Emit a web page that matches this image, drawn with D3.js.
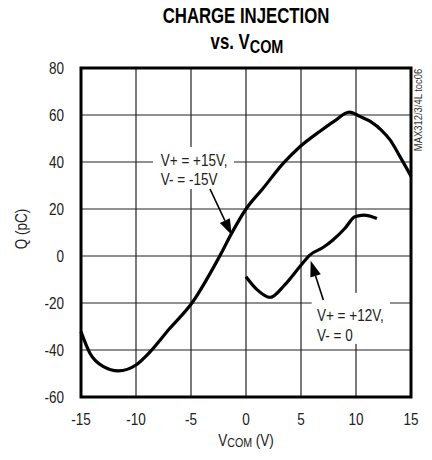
<!DOCTYPE html>
<html><head><meta charset="utf-8">
<script src="https://cdn.jsdelivr.net/npm/d3@7"></script>
<style>
body{margin:0;background:#fff;}
svg text{font-family:"Liberation Sans",Arial,sans-serif;}
</style></head>
<body><svg id="c" width="432" height="460"></svg>
<script>
const xTicks = [-15,-10,-5,0,5,10,15];
const yTicks = [-60,-40,-20,0,20,40,60,80];
const s1x = [-15,-14.2,-13,-11.6,-10,-8.7,-7,-4.9,-2.5,-1.15,0,1.5,3.4,4.9,6.7,8,9.4,10.4,11.4,12.3,13.1,14,15];
const s1y = [-32.2,-41.3,-47,-48.9,-46.4,-40.7,-31.2,-19.9,-1.0,11,20,28.5,39.5,46.5,53,57.3,61.2,59.3,57,53.6,49.4,42.3,34];
const s2x = [0,1,2.2,3.5,4.9,5.8,7,7.9,9,9.9,10.7,11.9];
const s2y = [-8.8,-14.3,-17.6,-12.4,-4.5,0.4,3.6,6.8,11.8,16.7,17.4,16];
const labels1 = ["V+ = +15V,","V- = -15V"];
const labels2 = ["V+ = +12V,","V- = 0"];

const svg = d3.select("#c");
const x = d3.scaleLinear().domain([-15,15]).range([81,411]);
const y = d3.scaleLinear().domain([-60,80]).range([397,68]);
const SX = 0.82;

function txt(px, py, str, size, anchor, opts={}){
  const g = svg.append("g").attr("transform",`translate(${px},${py}) rotate(${opts.rot||0}) scale(${opts.sx||SX},1)`);
  const t = g.append("text").attr("x",0).attr("y",0).attr("text-anchor",anchor||"start")
    .attr("font-size",size).attr("fill",opts.fill||"#222");
  if (opts.bold) t.attr("font-weight","bold");
  if (str!==null) t.text(str);
  return t;
}

// grid
svg.append("g").selectAll("line").data(xTicks.slice(1,-1)).join("line")
  .attr("x1",d=>x(d)).attr("x2",d=>x(d)).attr("y1",y(80)).attr("y2",y(-60))
  .attr("stroke","#222").attr("stroke-width",1.2);
svg.append("g").selectAll("line").data(yTicks.slice(1,-1)).join("line")
  .attr("y1",d=>y(d)).attr("y2",d=>y(d)).attr("x1",x(-15)).attr("x2",x(15))
  .attr("stroke","#222").attr("stroke-width",1.2);

// label background boxes
svg.append("rect").attr("x",x(-8.45)).attr("y",y(46.4)).attr("width",x(-1.1)-x(-8.45)).attr("height",y(28.5)-y(46.4)).attr("fill","#fff");
svg.append("rect").attr("x",x(5.97)).attr("y",y(-15.7)).attr("width",x(13.1)-x(5.97)).attr("height",y(-37.4)-y(-15.7)).attr("fill","#fff");

// labels
const fsz = 16.5;
labels1.forEach((t,i)=>txt(x(-7.75), y(38.3)+i*19.5, t, fsz, "start"));
labels2.forEach((t,i)=>txt(x(6.45), y(-27.8)+i*19.5, t, fsz, "start"));

// curves
const line = d3.line().x(d=>x(d[0])).y(d=>y(d[1])).curve(d3.curveMonotoneX);
[[s1x,s1y],[s2x,s2y]].forEach(([sx,sy])=>{
  svg.append("path").datum(sx.map((v,i)=>[v,sy[i]])).attr("d",line)
    .attr("fill","none").attr("stroke","#000").attr("stroke-width",3.2).attr("stroke-linejoin","round");
});

// arrows
function arrow(x0,y0,x1,y1){
  const X0=x(x0),Y0=y(y0),X1=x(x1),Y1=y(y1);
  const a=Math.atan2(Y1-Y0,X1-X0), L=16, W=5.5;
  const bx=X1-L*Math.cos(a), by=Y1-L*Math.sin(a);
  svg.append("line").attr("x1",X0).attr("y1",Y0).attr("x2",bx).attr("y2",by).attr("stroke","#000").attr("stroke-width",1.6);
  const px=-Math.sin(a)*W, py=Math.cos(a)*W;
  svg.append("path").attr("d",`M${X1},${Y1}L${bx+px},${by+py}L${bx-px},${by-py}Z`).attr("fill","#000");
}
arrow(-3.27,28.5,-1.3,8.9);
arrow(7.03,-18.7,5.88,-2.0);

// border
svg.append("rect").attr("x",x(-15)).attr("y",y(80)).attr("width",x(15)-x(-15)).attr("height",y(-60)-y(80))
  .attr("fill","none").attr("stroke","#000").attr("stroke-width",3);

// tick labels
xTicks.forEach(d=>txt(x(d), 425, String(d), fsz, "middle"));
yTicks.forEach(d=>txt(64, y(d)+6, String(d), fsz, "end"));

// axis titles
const xt = txt(246, 446, null, fsz, "middle");
xt.append("tspan").text("V");
xt.append("tspan").attr("font-size",13).attr("dy",1).text("COM");
xt.append("tspan").attr("dy",-1).text(" (V)");
txt(27, 229, "Q (pC)", fsz, "middle", {rot:-90});

// side note
txt(422, 110, "MAX312/3/4L toc06", 11.5, "middle", {rot:-90, fill:"#333"});

// title
txt(246, 23, "CHARGE INJECTION", 21.5, "middle", {bold:true, fill:"#000", sx:0.78});
const t2 = txt(247, 49, null, 21.5, "middle", {bold:true, fill:"#000", sx:0.78});
t2.append("tspan").text("vs. V");
t2.append("tspan").attr("font-size",18.5).attr("dy",4).text("COM");
</script></body></html>
